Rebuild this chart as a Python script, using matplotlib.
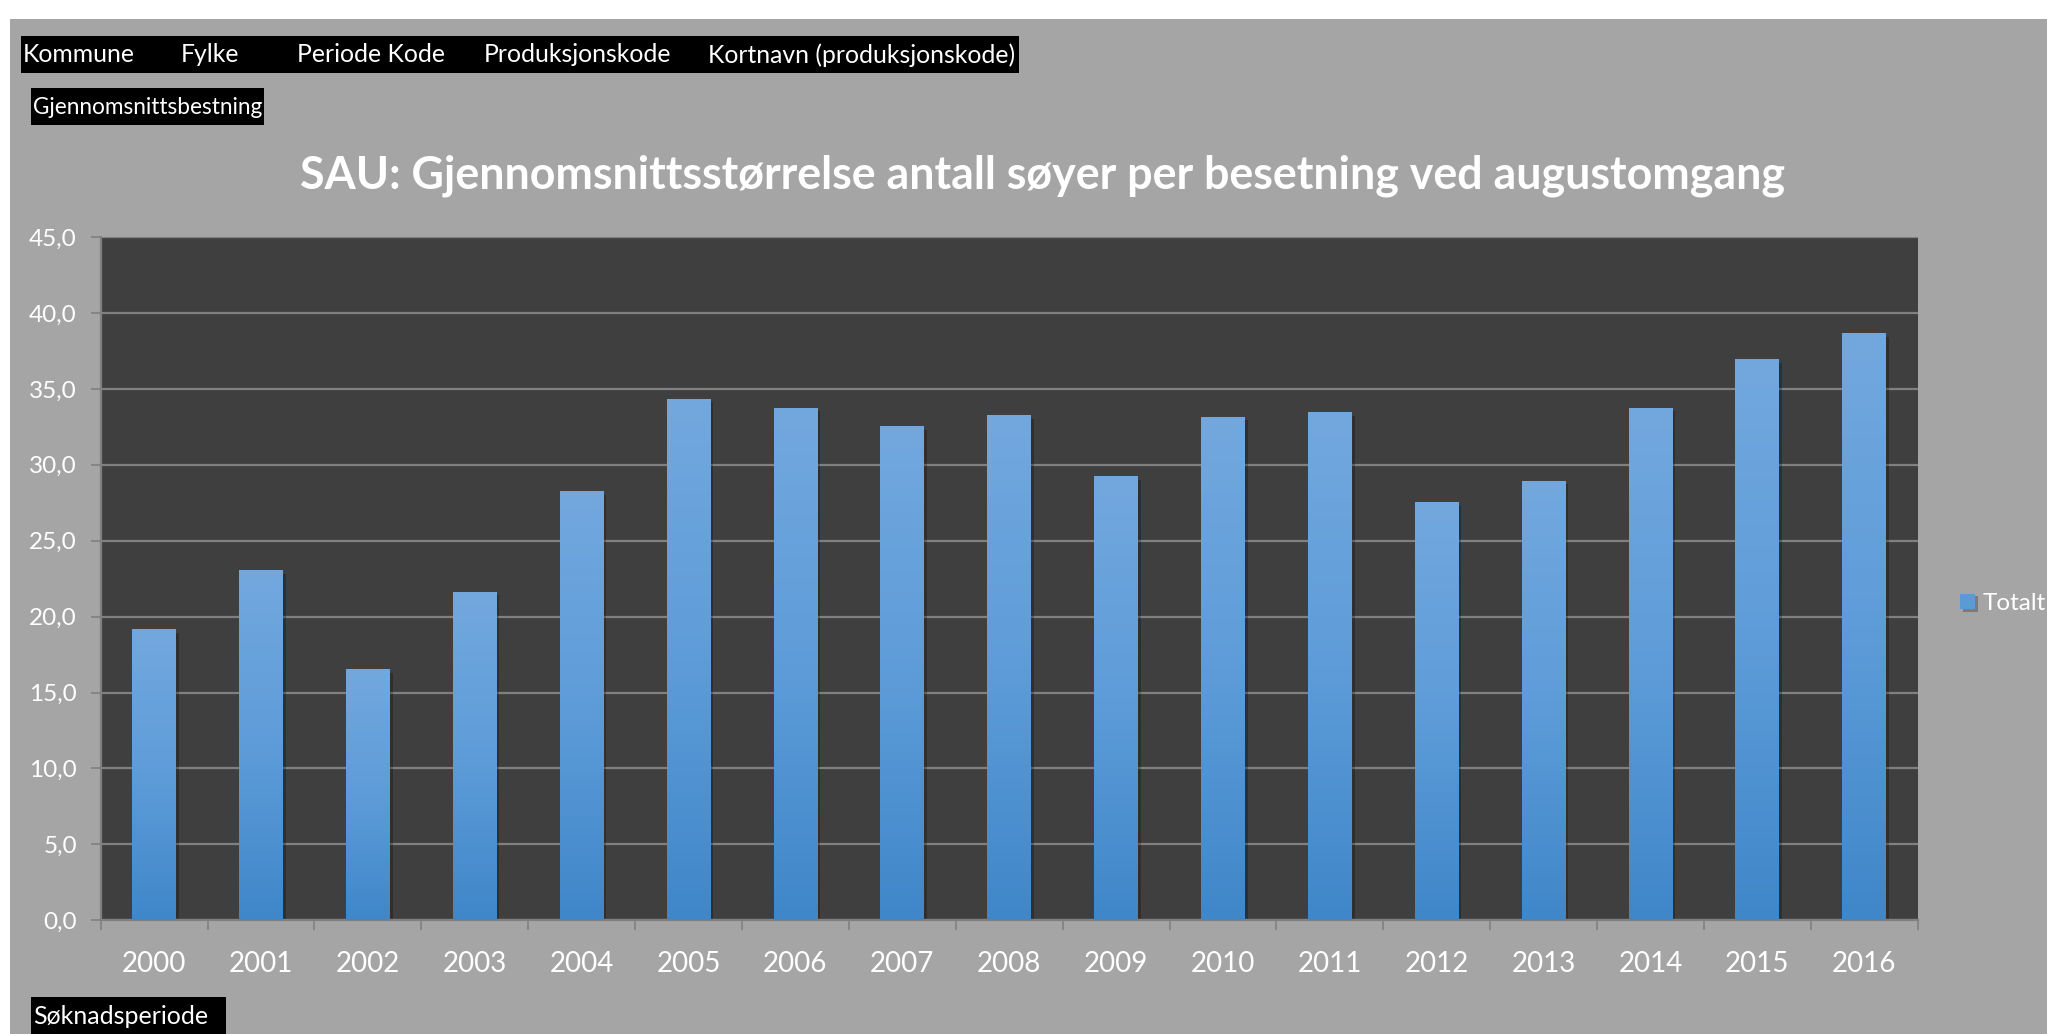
import matplotlib
matplotlib.use("Agg")
import matplotlib.pyplot as plt
import numpy as np
from matplotlib.patches import Rectangle
from matplotlib.colors import LinearSegmentedColormap
import matplotlib.patheffects as pe

plt.rcParams['font.family'] = ['Lato', 'DejaVu Sans']

years = ['2000', '2001', '2002', '2003', '2004', '2005', '2006', '2007', '2008',
         '2009', '2010', '2011', '2012', '2013', '2014', '2015', '2016']
values = [19.1, 23.0, 16.5, 21.6, 28.2, 34.3, 33.7, 32.5, 33.2,
          29.2, 33.1, 33.4, 27.5, 28.9, 33.7, 36.9, 38.6]
yticks = [0, 5, 10, 15, 20, 25, 30, 35, 40, 45]
ytick_labels = ['0,0', '5,0', '10,0', '15,0', '20,0', '25,0', '30,0', '35,0', '40,0', '45,0']
title = 'SAU: Gjennomsnittsstørrelse antall søyer per besetning ved augustomgang'
series_name = 'Totalt'
top_buttons = ['Kommune', 'Fylke', 'Periode Kode', 'Produksjonskode', 'Kortnavn (produksjonskode)']
row_button = 'Gjennomsnittsbestning'
col_button = 'Søknadsperiode'

W, H = 2047, 1034
fig = plt.figure(figsize=(W / 100, H / 100), dpi=100, facecolor='white')

def fx(px):
    return px / W

def fy(py):
    return 1 - py / H

# grey background panel
fig.patches.append(Rectangle((fx(10), 0), 1 - fx(10), fy(19), transform=fig.transFigure,
                             facecolor='#a5a5a5', edgecolor='none', zorder=-10))

# plot area
left, right, top, bottom = 100.7, 1917.7, 237.0, 920.3
ax = fig.add_axes([fx(left), fy(bottom), fx(right - left), (bottom - top) / H])
ax.set_facecolor('#3f3f3f')

x = np.arange(len(years))
bw = 0.41
bars = ax.bar(x, values, width=bw, color='#5b9bd5', zorder=2, label=series_name,
              path_effects=[pe.SimplePatchShadow(offset=(2, -2), shadow_rgbFace='black', alpha=0.25),
                            pe.Normal()])

cmap = LinearSegmentedColormap.from_list('g', ['#3f87c9', '#5e9cd9', '#72a8de'])
grad = np.linspace(0, 1, 256).reshape(-1, 1)
for b in bars:
    bx, bh = b.get_x(), b.get_height()
    ax.imshow(grad, extent=[bx, bx + b.get_width(), 0, bh], origin='lower', aspect='auto',
              cmap=cmap, zorder=3, interpolation='bicubic')

ax.set_xlim(-0.5, len(years) - 0.5)
ax.set_ylim(0, 45)

ax.set_yticks(yticks)
ax.set_yticklabels(ytick_labels)
ax.yaxis.grid(True, color='#808080', linewidth=1.6)
ax.set_axisbelow(True)
ax.tick_params(axis='y', length=7.2, width=1.2, color='#808080', labelcolor='white',
               labelsize=17.5, pad=10)

ax.set_xticks(np.arange(-0.5, len(years), 1.0))
ax.set_xticklabels([])
ax.set_xticks(x, minor=True)
ax.set_xticklabels(years, minor=True)
ax.tick_params(axis='x', which='major', length=7.5, width=1.2, color='#808080')
ax.tick_params(axis='x', which='minor', length=0, labelcolor='white', labelsize=20, pad=22)

for s in ['top', 'right']:
    ax.spines[s].set_visible(False)
for s in ['left', 'bottom']:
    ax.spines[s].set_color('#808080')
    ax.spines[s].set_linewidth(1.6)

leg = ax.legend(handles=[bars], loc='center left',
                bbox_to_anchor=((1960 - left) / (right - left), (bottom - 603.5) / (bottom - top)),
                frameon=False, fontsize=17.5, borderpad=0, borderaxespad=0,
                handlelength=0.62, handleheight=0.62, handletextpad=0.3, labelcolor='white')

fig.text(fx(1043), fy(176), title, ha='center', va='center', fontsize=32.2,
         fontweight='bold', color='white')

# field buttons
fig.patches.append(Rectangle((fx(21), fy(72.7)), fx(1019 - 21), (72.7 - 36) / H,
                             transform=fig.transFigure, facecolor='black', edgecolor='none'))
btn_x = [22.5, 181, 297, 484, 708.5]
for bx, t in zip(btn_x, top_buttons):
    fig.text(fx(bx), fy(55), t, ha='left', va='center', fontsize=17.8, color='white')

fig.patches.append(Rectangle((fx(31), fy(124.7)), fx(264 - 31), (124.7 - 88) / H,
                             transform=fig.transFigure, facecolor='black', edgecolor='none'))
fig.text(fx(33), fy(107), row_button, ha='left', va='center', fontsize=16.3, color='white')

fig.patches.append(Rectangle((fx(31), 0), fx(226 - 31), (1034 - 996.7) / H,
                             transform=fig.transFigure, facecolor='black', edgecolor='none'))
fig.text(fx(33), fy(1016), col_button, ha='left', va='center', fontsize=18, color='white')

fig.savefig('out.png', dpi=100, facecolor=fig.get_facecolor())
